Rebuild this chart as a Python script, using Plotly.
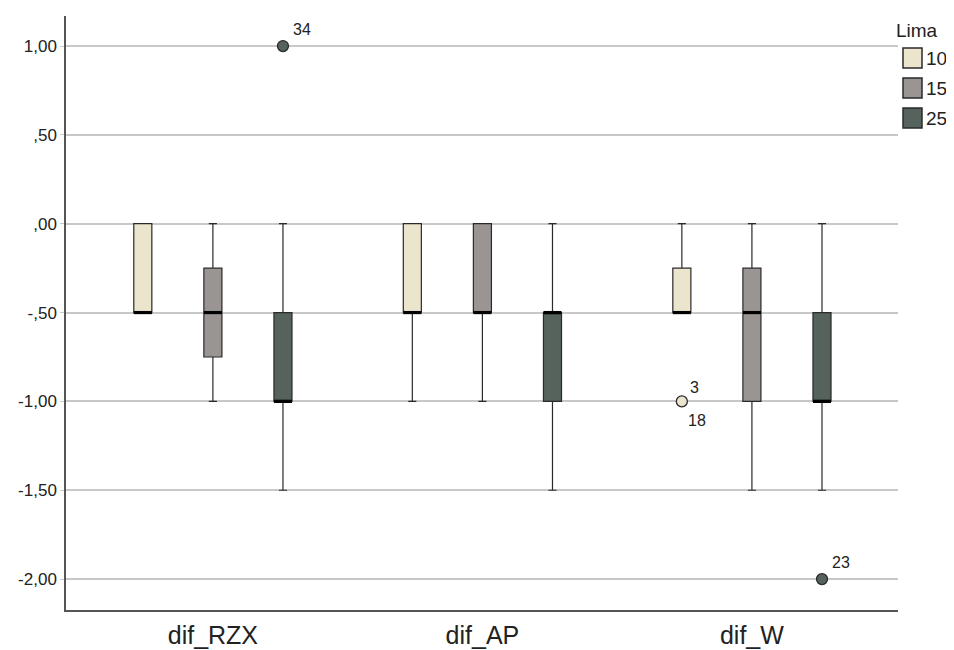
import plotly.graph_objects as go

categories = ["dif_RZX", "dif_AP", "dif_W"]
groups = ["10", "15", "25"]
group_colors = ["#EBE5CE", "#9A9593", "#56625C"]

# stats per group for each category
q1 = {"10": [-0.5, -0.5, -0.5], "15": [-0.75, -0.5, -1.0], "25": [-1.0, -1.0, -1.0]}
median = {"10": [-0.5, -0.5, -0.5], "15": [-0.5, -0.5, -0.5], "25": [-1.0, -0.5, -1.0]}
q3 = {"10": [0.0, 0.0, -0.25], "15": [-0.25, 0.0, -0.25], "25": [-0.5, -0.5, -0.5]}
lower = {"10": [-0.5, -1.0, -0.5], "15": [-1.0, -1.0, -1.5], "25": [-1.5, -1.5, -1.5]}
upper = {"10": [0.0, 0.0, 0.0], "15": [0.0, 0.0, 0.0], "25": [0.0, 0.0, 0.0]}

# outliers: category index, group, value, case labels
outlier_cat = [0, 2, 2]
outlier_grp = ["25", "10", "25"]
outlier_val = [1.0, -1.0, -2.0]
outlier_lbl = [["34"], ["3", "18"], ["23"]]

ytickvals = [1.0, 0.5, 0.0, -0.5, -1.0, -1.5, -2.0]
yticktext = ["1,00", ",50", ",00", "-,50", "-1,00", "-1,50", "-2,00"]

offsets = [-0.26, 0.0, 0.26]
box_w = 0.067

fig = go.Figure()
for gi, g in enumerate(groups):
    xs = [ci + offsets[gi] for ci in range(len(categories))]
    fig.add_trace(go.Box(
        x=xs, q1=q1[g], median=median[g], q3=q3[g],
        lowerfence=lower[g], upperfence=upper[g],
        width=box_w, whiskerwidth=0.45,
        fillcolor=group_colors[gi], line=dict(color="#2a2a2a", width=1.2),
        showlegend=False, hoverinfo="skip", boxpoints=False,
    ))
    mx, my = [], []
    for ci in range(len(categories)):
        mx += [xs[ci] - box_w / 2, xs[ci] + box_w / 2, None]
        my += [median[g][ci], median[g][ci], None]
    fig.add_trace(go.Scatter(x=mx, y=my, mode="lines",
                             line=dict(color="#000000", width=3.2),
                             showlegend=False, hoverinfo="skip"))

for ci, g, v, lbls in zip(outlier_cat, outlier_grp, outlier_val, outlier_lbl):
    gi = groups.index(g)
    x = ci + offsets[gi]
    fig.add_trace(go.Scatter(x=[x], y=[v], mode="markers",
                             marker=dict(size=11, color=group_colors[gi],
                                         line=dict(color="#2a2a2a", width=1.3)),
                             showlegend=False, hoverinfo="skip"))
    if len(lbls) == 1:
        fig.add_annotation(x=x, y=v, text=lbls[0], showarrow=False,
                           xshift=19, yshift=17, font=dict(size=16, color="#222"))
    else:
        fig.add_annotation(x=x, y=v, text=lbls[0], showarrow=False,
                           xshift=13, yshift=14, font=dict(size=16, color="#222"))
        fig.add_annotation(x=x, y=v, text=lbls[1], showarrow=False,
                           xshift=15, yshift=-19, font=dict(size=16, color="#222"))

# legend drawn by hand, offsets in pixels from the plot's top-right corner
plot_top = 16
plot_right = 898
fig.add_annotation(xref="paper", yref="paper", x=1.0, y=1.0, xanchor="left", yanchor="middle",
                   xshift=-4, yshift=-(30 - plot_top), text="Lima", showarrow=False,
                   font=dict(size=19, color="#222"))
for gi, g in enumerate(groups):
    cy = 58 + 30 * gi
    fig.add_shape(type="rect", xref="paper", yref="paper",
                  xsizemode="pixel", ysizemode="pixel",
                  xanchor=1.0, yanchor=1.0,
                  x0=903 - plot_right, x1=922 - plot_right,
                  y0=-(cy - 10 - plot_top), y1=-(cy + 10 - plot_top),
                  fillcolor=group_colors[gi], line=dict(color="#2a2a2a", width=1.5))
    fig.add_annotation(xref="paper", yref="paper", x=1.0, y=1.0, xanchor="left", yanchor="middle",
                       xshift=924 - plot_right, yshift=-(cy - plot_top), text=g, showarrow=False,
                       font=dict(size=19, color="#222"))

fig.update_layout(
    width=954, height=650,
    margin=dict(l=58, r=64, t=8, b=48, autoexpand=False),
    paper_bgcolor="white", plot_bgcolor="white",
    font=dict(family="Liberation Sans, Arial, sans-serif", color="#222"),
    boxmode="overlay",
    showlegend=False,
    xaxis=dict(range=[-0.545, 2.542], tickvals=[0, 1, 2], ticktext=categories,
               showgrid=False, zeroline=False, showline=True, linecolor="#555",
               linewidth=1.5, ticks="", tickfont=dict(size=25), ticklabelstandoff=2),
    yaxis=dict(range=[-2.174, 1.169], tickvals=ytickvals, ticktext=yticktext,
               showgrid=True, gridcolor="#c8c8c8", gridwidth=1.5, zeroline=False,
               showline=True, linecolor="#555", linewidth=1.5,
               ticks="outside", ticklen=4, tickcolor="#c8c8c8",
               tickfont=dict(size=17)),
)

fig.write_html("out.html")
